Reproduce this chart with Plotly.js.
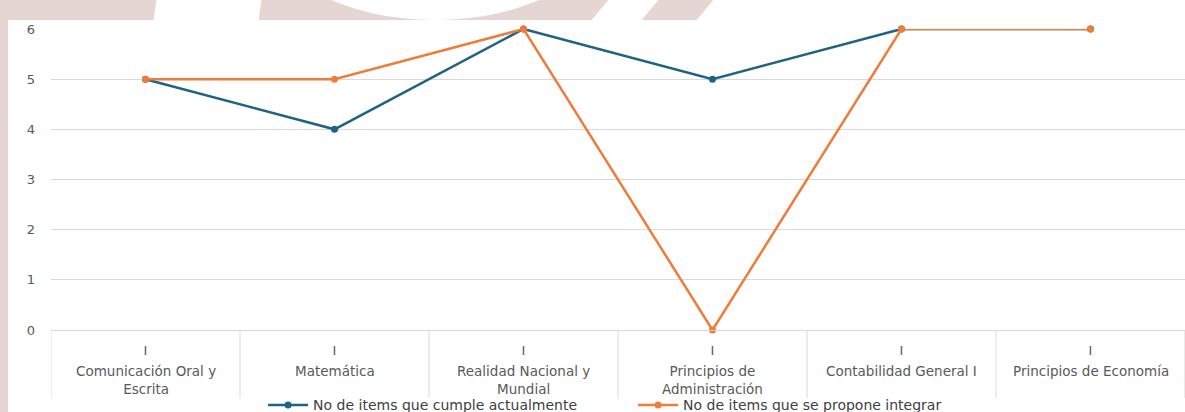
<!DOCTYPE html>
<html>
<head>
<meta charset="utf-8">
<script src="https://cdn.plot.ly/plotly-3.0.1.min.js"></script>
<style>
  html, body { margin:0; padding:0; }
  body { width:1185px; height:412px; position:relative; overflow:hidden; background:#e6d6d3; font-family:"DejaVu Sans", sans-serif; }
  .w { position:absolute; background:#ffffff; }
  #chart { position:absolute; left:0; top:0; width:1185px; height:412px; }
</style>
</head>
<body>
<div class="w" style="left:155px;top:-10px;width:105px;height:40px;transform:skewX(-8deg);"></div>
<div class="w" style="left:270px;top:-160px;width:330px;height:180px;border-radius:50%;"></div>
<div class="w" style="left:600px;top:-5px;width:50px;height:30px;transform:skewX(-40deg);"></div>
<div class="w" style="left:705px;top:-5px;width:500px;height:30px;transform:skewX(-40deg);"></div>
<div class="w" style="left:8px;top:20px;width:1200px;height:400px;"></div>
<div id="chart"></div>
<script>
const categories = ["Comunicación Oral y<br>Escrita", "Matemática", "Realidad Nacional y<br>Mundial", "Principios de<br>Administración", "Contabilidad General I", "Principios de Economía"];
const semester = ["I", "I", "I", "I", "I", "I"];
const seriesActual = [5, 4, 6, 5, 6, 6];
const seriesPropuesta = [5, 5, 6, 0, 6, 6];
const nameActual = "No de items que cumple actualmente";
const namePropuesta = "No de items que se propone integrar";

const traces = [
  { x: categories, y: seriesActual, name: nameActual, type: "scatter", mode: "lines+markers",
    line: { color: "#1f6384", width: 2.5 }, marker: { color: "#1f6384", size: 7 }, cliponaxis: false },
  { x: categories, y: seriesPropuesta, name: namePropuesta, type: "scatter", mode: "lines+markers",
    line: { color: "#ee7d3b", width: 2.5 }, marker: { color: "#ee7d3b", size: 7 }, cliponaxis: false }
];

// category-name labels (outer level) drawn below the semester labels
const annotations = categories.map(c => ({
  x: c, xref: "x", y: -0.103, yref: "paper", yanchor: "top", xanchor: "center",
  text: c, showarrow: false, font: { size: 13.5, color: "#595959" }, align: "center"
}));

// dividers between categories (category boundaries)
const shapes = [];
for (let i = 0; i <= categories.length; i++) {
  shapes.push({ type: "line", xref: "x", yref: "paper", x0: i - 0.5, x1: i - 0.5, y0: 0, y1: -0.226,
    line: { color: "#d9d9d9", width: 1 } });
}

const layout = {
  width: 1185, height: 412,
  paper_bgcolor: "rgba(0,0,0,0)", plot_bgcolor: "#ffffff",
  margin: { l: 51, r: 0, t: 29, b: 82, autoexpand: false },
  font: { family: "DejaVu Sans, sans-serif", size: 12, color: "#595959" },
  showlegend: true,
  legend: { orientation: "h", x: 0.222, xanchor: "left", xref: "container", y: 0.016, yanchor: "middle", yref: "container",
    font: { size: 14, color: "#404040" }, itemwidth: 40, tracegroupgap: 0, entrywidth: 315, entrywidthmode: "pixels" },
  xaxis: { type: "category", range: [-0.5, 5.5], showline: true, linecolor: "#d9d9d9", linewidth: 1, showgrid: false,
    ticks: "", tickmode: "array", tickvals: categories, ticktext: semester, ticklabelstandoff: 8,
    tickfont: { size: 13, color: "#595959" } },
  yaxis: { range: [0, 6], dtick: 1, showgrid: true, gridcolor: "#d9d9d9", gridwidth: 1, zeroline: false,
    showline: false, tickfont: { size: 13, color: "#595959" }, ticklabelstandoff: 15 },
  annotations: annotations,
  shapes: shapes
};

Plotly.newPlot("chart", traces, layout, { displayModeBar: false, staticPlot: true });
</script>
</body>
</html>
